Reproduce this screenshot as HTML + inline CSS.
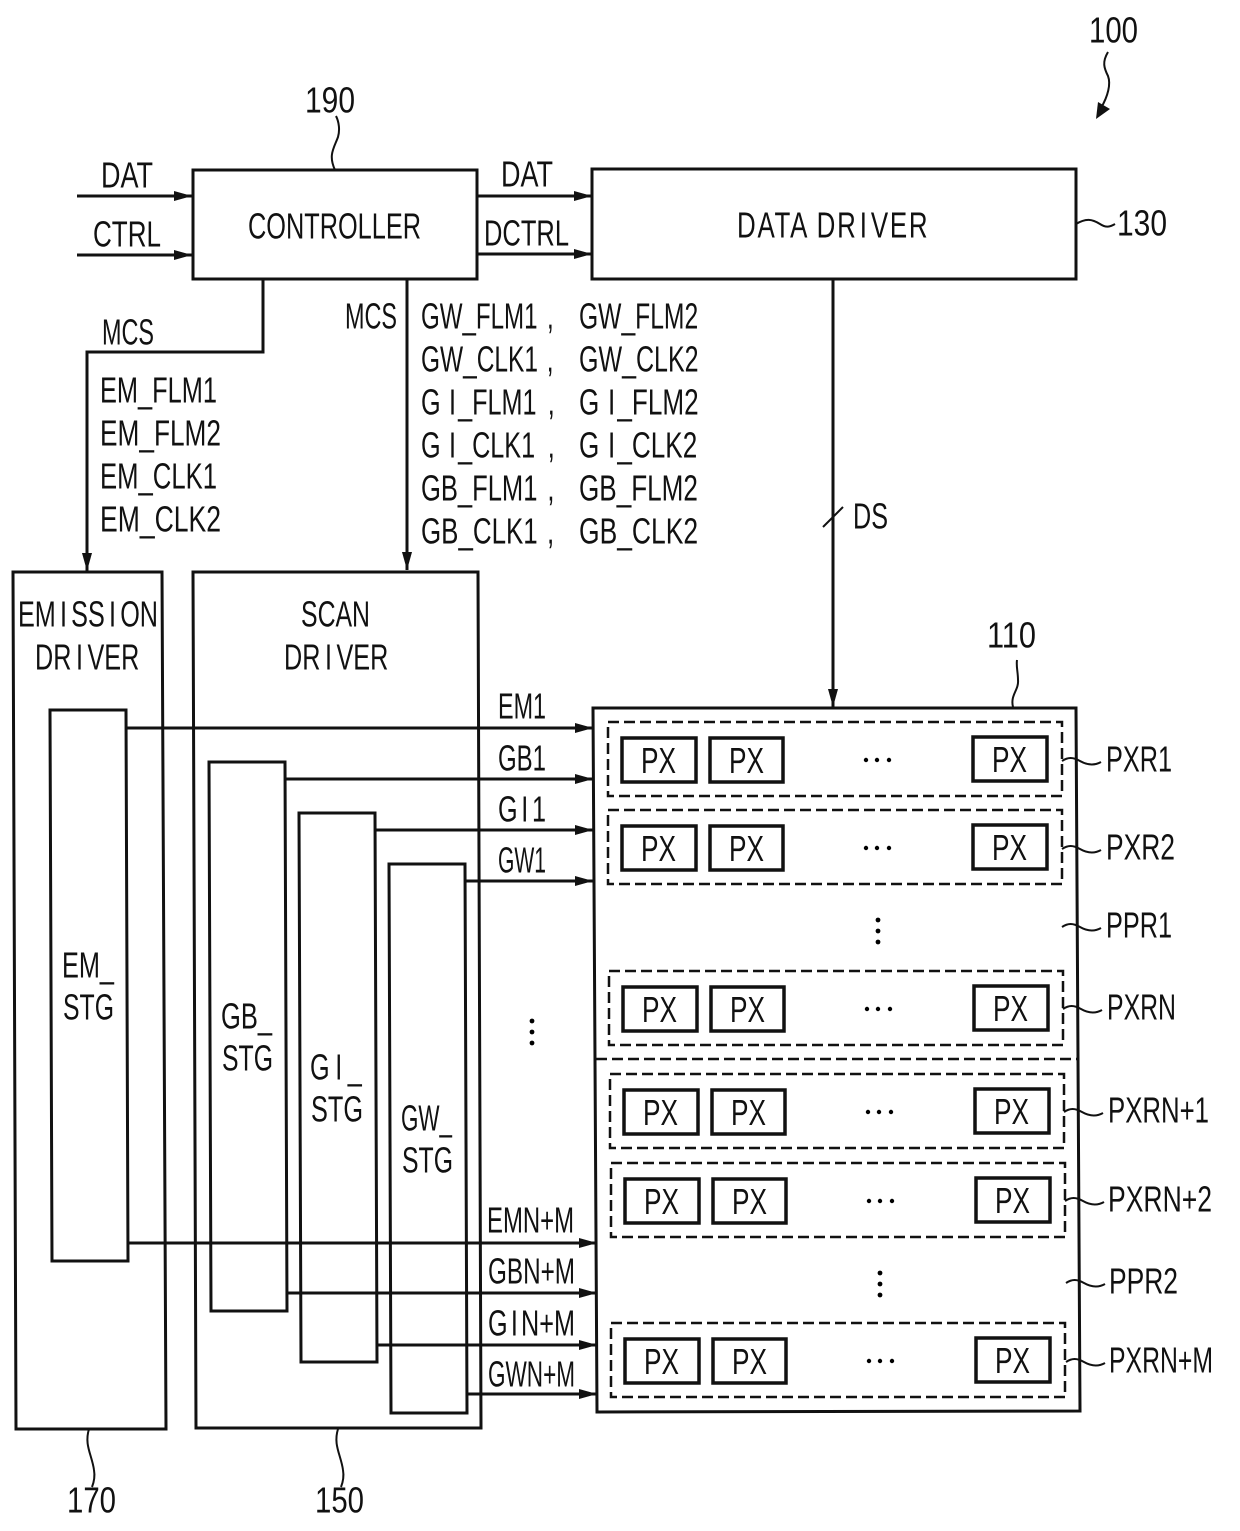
<!DOCTYPE html>
<html><head><meta charset="utf-8"><style>
html,body{margin:0;padding:0;background:#fff}
svg{display:block}
text{font-family:"Liberation Sans",sans-serif;font-size:36px;fill:#111}
.b{fill:none;stroke:#111;stroke-width:3}
.l{fill:none;stroke:#111;stroke-width:3}
.t{fill:none;stroke:#111;stroke-width:2}
.d{fill:none;stroke:#111;stroke-width:2.5;stroke-dasharray:11 5}
.p{fill:#fff;stroke:#111;stroke-width:3.5}
</style></head><body>
<svg xmlns="http://www.w3.org/2000/svg" width="1240" height="1531" viewBox="0 0 1240 1531">
<defs>
<marker id="a" markerUnits="userSpaceOnUse" markerWidth="20" markerHeight="10" refX="18" refY="5" orient="auto"><path d="M0 0L18 5L0 10Z" fill="#111"/></marker>
</defs>
<rect width="1240" height="1531" fill="#fff"/>

<!-- connectors -->
<path class="l" d="M77 196H192" marker-end="url(#a)"/>
<path class="l" d="M77 255H192" marker-end="url(#a)"/>
<path class="l" d="M477 196H592" marker-end="url(#a)"/>
<path class="l" d="M477 254H592" marker-end="url(#a)"/>
<path class="l" d="M263 280V352H87V571" marker-end="url(#a)"/>
<path class="l" d="M407 280V570" marker-end="url(#a)"/>
<path class="l" d="M833 280V707" marker-end="url(#a)"/>
<path class="t" d="M823 527L843 507"/>

<!-- main boxes -->
<path class="b" d="M193 170H477V279H193Z"/>
<path class="b" d="M592 169H1076V279H592Z"/>
<path class="b" d="M13 572H162L166 1429H16Z"/>
<path class="b" d="M193 572H478L481 1428H196Z"/>
<path class="b" d="M593 708H1076L1080 1411L597 1412Z"/>
<path class="b" d="M50 710H126L128 1261H52Z"/>
<path class="b" d="M209 762H285L287 1311H211Z"/>
<path class="b" d="M299 813H375L377 1362H301Z"/>
<path class="b" d="M389 864H465L467 1413H391Z"/>

<!-- scan lines -->
<path class="l" d="M126 728H593" marker-end="url(#a)"/>
<path class="l" d="M285 779H593" marker-end="url(#a)"/>
<path class="l" d="M375 830H593" marker-end="url(#a)"/>
<path class="l" d="M465 881H593" marker-end="url(#a)"/>
<path class="l" d="M128 1243H597" marker-end="url(#a)"/>
<path class="l" d="M287 1293H597" marker-end="url(#a)"/>
<path class="l" d="M377 1345H597" marker-end="url(#a)"/>
<path class="l" d="M467 1394H597" marker-end="url(#a)"/>

<path class="d" d="M596 1059H1077"/>

<!-- pixel rows -->
<g><path class="d" d="M608 722H1062V796H608Z"/><rect class="p" x="622" y="738" width="74" height="44"/><rect class="p" x="710" y="738" width="73" height="44"/><rect class="p" x="973" y="737" width="74" height="44"/>
<text x="641" y="773" textLength="35" lengthAdjust="spacingAndGlyphs">PX</text><text x="729" y="773" textLength="35" lengthAdjust="spacingAndGlyphs">PX</text><text x="992" y="772" textLength="35" lengthAdjust="spacingAndGlyphs">PX</text>
<circle cx="866" cy="760" r="2.2"/><circle cx="877" cy="760" r="2.2"/><circle cx="889" cy="760" r="2.2"/></g>
<g transform="translate(0,88)"><path class="d" d="M608 722H1062V796H608Z"/><rect class="p" x="622" y="738" width="74" height="44"/><rect class="p" x="710" y="738" width="73" height="44"/><rect class="p" x="973" y="737" width="74" height="44"/>
<text x="641" y="773" textLength="35" lengthAdjust="spacingAndGlyphs">PX</text><text x="729" y="773" textLength="35" lengthAdjust="spacingAndGlyphs">PX</text><text x="992" y="772" textLength="35" lengthAdjust="spacingAndGlyphs">PX</text>
<circle cx="866" cy="760" r="2.2"/><circle cx="877" cy="760" r="2.2"/><circle cx="889" cy="760" r="2.2"/></g>
<g transform="translate(1,249)"><path class="d" d="M608 722H1062V796H608Z"/><rect class="p" x="622" y="738" width="74" height="44"/><rect class="p" x="710" y="738" width="73" height="44"/><rect class="p" x="973" y="737" width="74" height="44"/>
<text x="641" y="773" textLength="35" lengthAdjust="spacingAndGlyphs">PX</text><text x="729" y="773" textLength="35" lengthAdjust="spacingAndGlyphs">PX</text><text x="992" y="772" textLength="35" lengthAdjust="spacingAndGlyphs">PX</text>
<circle cx="866" cy="760" r="2.2"/><circle cx="877" cy="760" r="2.2"/><circle cx="889" cy="760" r="2.2"/></g>
<g transform="translate(2,352)"><path class="d" d="M608 722H1062V796H608Z"/><rect class="p" x="622" y="738" width="74" height="44"/><rect class="p" x="710" y="738" width="73" height="44"/><rect class="p" x="973" y="737" width="74" height="44"/>
<text x="641" y="773" textLength="35" lengthAdjust="spacingAndGlyphs">PX</text><text x="729" y="773" textLength="35" lengthAdjust="spacingAndGlyphs">PX</text><text x="992" y="772" textLength="35" lengthAdjust="spacingAndGlyphs">PX</text>
<circle cx="866" cy="760" r="2.2"/><circle cx="877" cy="760" r="2.2"/><circle cx="889" cy="760" r="2.2"/></g>
<g transform="translate(3,441)"><path class="d" d="M608 722H1062V796H608Z"/><rect class="p" x="622" y="738" width="74" height="44"/><rect class="p" x="710" y="738" width="73" height="44"/><rect class="p" x="973" y="737" width="74" height="44"/>
<text x="641" y="773" textLength="35" lengthAdjust="spacingAndGlyphs">PX</text><text x="729" y="773" textLength="35" lengthAdjust="spacingAndGlyphs">PX</text><text x="992" y="772" textLength="35" lengthAdjust="spacingAndGlyphs">PX</text>
<circle cx="866" cy="760" r="2.2"/><circle cx="877" cy="760" r="2.2"/><circle cx="889" cy="760" r="2.2"/></g>
<g transform="translate(3,601)"><path class="d" d="M608 722H1062V796H608Z"/><rect class="p" x="622" y="738" width="74" height="44"/><rect class="p" x="710" y="738" width="73" height="44"/><rect class="p" x="973" y="737" width="74" height="44"/>
<text x="641" y="773" textLength="35" lengthAdjust="spacingAndGlyphs">PX</text><text x="729" y="773" textLength="35" lengthAdjust="spacingAndGlyphs">PX</text><text x="992" y="772" textLength="35" lengthAdjust="spacingAndGlyphs">PX</text>
<circle cx="866" cy="760" r="2.2"/><circle cx="877" cy="760" r="2.2"/><circle cx="889" cy="760" r="2.2"/></g>

<!-- vertical dots -->
<circle cx="878" cy="920" r="2.4"/><circle cx="878" cy="931" r="2.4"/><circle cx="878" cy="942" r="2.4"/>
<circle cx="880" cy="1273" r="2.4"/><circle cx="880" cy="1284" r="2.4"/><circle cx="880" cy="1295" r="2.4"/>
<circle cx="532" cy="1021" r="2.4"/><circle cx="532" cy="1032" r="2.4"/><circle cx="532" cy="1043" r="2.4"/>

<!-- leaders -->
<path class="t" d="M335 170C328 155 334 148 338 137C340 130 339 122 336 116"/>
<path class="t" d="M1076 224C1086 218 1092 219 1100 224C1106 228 1110 227 1115 224"/>
<path class="t" d="M1108 52C1102 62 1104 68 1108 76C1111 84 1108 96 1101 108"/>
<path d="M1096 119L1098 102L1110 109Z" fill="#111"/>
<path class="t" d="M1013 707C1010 695 1019 690 1018 680C1018 672 1016 666 1017 660"/>
<path class="t" d="M89 1429C84 1445 92 1455 94 1470C95 1476 94 1482 92 1487"/>
<path class="t" d="M338 1429C333 1445 341 1455 343 1470C344 1476 343 1482 341 1487"/>
<path class="t" d="M1062 761C1068 757 1073 757 1080 761C1087 765 1094 766 1101 762"/>
<path class="t" d="M1062 849C1068 845 1073 845 1080 849C1087 853 1094 854 1101 850"/>
<path class="t" d="M1062 927C1068 923 1073 923 1080 927C1087 931 1094 932 1101 928"/>
<path class="t" d="M1063 1009C1069 1005 1074 1005 1081 1009C1088 1013 1095 1014 1102 1010"/>
<path class="t" d="M1064 1112C1070 1108 1075 1108 1082 1112C1089 1116 1096 1117 1103 1113"/>
<path class="t" d="M1065 1201C1071 1197 1076 1197 1083 1201C1090 1205 1097 1206 1104 1202"/>
<path class="t" d="M1066 1283C1072 1279 1077 1279 1084 1283C1091 1287 1098 1288 1105 1284"/>
<path class="t" d="M1066 1362C1072 1358 1077 1358 1084 1362C1091 1366 1098 1367 1105 1363"/>

<!-- labels -->
<g transform="translate(0,-0.7)">
<text x="1089" y="43" textLength="49" lengthAdjust="spacingAndGlyphs">100</text>
<text x="305" y="113" textLength="50" lengthAdjust="spacingAndGlyphs">190</text>
<text x="101" y="188" textLength="52" lengthAdjust="spacingAndGlyphs">DAT</text>
<text x="93" y="247" textLength="68" lengthAdjust="spacingAndGlyphs">CTRL</text>
<text x="248" y="239" textLength="173" lengthAdjust="spacingAndGlyphs">CONTROLLER</text>
<text x="501" y="187" textLength="52" lengthAdjust="spacingAndGlyphs">DAT</text>
<text x="484" y="246" textLength="85" lengthAdjust="spacingAndGlyphs">DCTRL</text>
<text transform="translate(737 238) scale(.72 1)" letter-spacing="2.4">DATA DR<tspan dx="3">I</tspan><tspan dx="3">VER</tspan></text>
<text x="1117" y="236" textLength="50" lengthAdjust="spacingAndGlyphs">130</text>
<text x="102" y="345" textLength="52" lengthAdjust="spacingAndGlyphs">MCS</text>
<text x="345" y="329" textLength="52" lengthAdjust="spacingAndGlyphs">MCS</text>

<text transform="translate(421 329) scale(.67 1)">GW_FLM1<tspan x="188">,</tspan></text>
<text transform="translate(579 329) scale(.685 1)">GW_FLM2</text>
<text transform="translate(421 372) scale(.68 1)">GW_CLK1<tspan x="185">,</tspan></text>
<text transform="translate(579 372) scale(.695 1)">GW_CLK2</text>
<text transform="translate(421 415) scale(.7 1)">G<tspan x="40">I</tspan><tspan x="53">_FLM1</tspan><tspan x="181">,</tspan></text>
<text transform="translate(579 415) scale(.725 1)">G<tspan x="40">I</tspan><tspan x="53">_FLM2</tspan></text>
<text transform="translate(421 458) scale(.7 1)">G<tspan x="40">I</tspan><tspan x="53">_CLK1</tspan><tspan x="181">,</tspan></text>
<text transform="translate(579 458) scale(.725 1)">G<tspan x="40">I</tspan><tspan x="53">_CLK2</tspan></text>
<text transform="translate(421 501) scale(.71 1)">GB_FLM1<tspan x="178">,</tspan></text>
<text transform="translate(579 501) scale(.725 1)">GB_FLM2</text>
<text transform="translate(421 544) scale(.72 1)">GB_CLK1<tspan x="175">,</tspan></text>
<text transform="translate(579 544) scale(.735 1)">GB_CLK2</text>

<text x="100" y="403" textLength="117" lengthAdjust="spacingAndGlyphs">EM_FLM1</text>
<text x="100" y="446" textLength="121" lengthAdjust="spacingAndGlyphs">EM_FLM2</text>
<text x="100" y="489" textLength="117" lengthAdjust="spacingAndGlyphs">EM_CLK1</text>
<text x="100" y="532" textLength="121" lengthAdjust="spacingAndGlyphs">EM_CLK2</text>

<text x="853" y="529" textLength="35" lengthAdjust="spacingAndGlyphs">DS</text>
<text x="987" y="648" textLength="49" lengthAdjust="spacingAndGlyphs">110</text>
<text transform="translate(18 627) scale(.7 1)">EM<tspan dx="6">I</tspan><tspan dx="6">SS</tspan><tspan dx="6">I</tspan><tspan dx="6">ON</tspan></text>
<text transform="translate(35 670) scale(.7 1)">DR<tspan dx="6.5">I</tspan><tspan dx="6.5">VER</tspan></text>
<text x="301" y="627" textLength="69" lengthAdjust="spacingAndGlyphs">SCAN</text>
<text transform="translate(284 670) scale(.7 1)">DR<tspan dx="6.5">I</tspan><tspan dx="6.5">VER</tspan></text>
<text x="62" y="978" textLength="52" lengthAdjust="spacingAndGlyphs">EM_</text>
<text x="63" y="1020" textLength="51" lengthAdjust="spacingAndGlyphs">STG</text>
<text x="221" y="1029" textLength="51" lengthAdjust="spacingAndGlyphs">GB_</text>
<text x="222" y="1071" textLength="51" lengthAdjust="spacingAndGlyphs">STG</text>
<text transform="translate(310 1080) scale(.7 1)">G<tspan dx="8">I</tspan><tspan dx="8">_</tspan></text>
<text x="311" y="1122" textLength="52" lengthAdjust="spacingAndGlyphs">STG</text>
<text x="401" y="1131" textLength="51" lengthAdjust="spacingAndGlyphs">GW_</text>
<text x="402" y="1173" textLength="51" lengthAdjust="spacingAndGlyphs">STG</text>

<text x="498" y="719" textLength="48" lengthAdjust="spacingAndGlyphs">EM1</text>
<text x="498" y="771" textLength="48" lengthAdjust="spacingAndGlyphs">GB1</text>
<text transform="translate(498 822) scale(.7 1)">G<tspan dx="5.3">I</tspan><tspan dx="5.3">1</tspan></text>
<text x="498" y="873" textLength="48" lengthAdjust="spacingAndGlyphs">GW1</text>
<text x="487" y="1233" textLength="87" lengthAdjust="spacingAndGlyphs">EMN+M</text>
<text x="488" y="1284" textLength="87" lengthAdjust="spacingAndGlyphs">GBN+M</text>
<text transform="translate(488 1336) scale(.7 1)">G<tspan dx="4.6">I</tspan><tspan dx="4.6">N+M</tspan></text>
<text x="488" y="1387" textLength="87" lengthAdjust="spacingAndGlyphs">GWN+M</text>

<text x="1106" y="772" textLength="66" lengthAdjust="spacingAndGlyphs">PXR1</text>
<text x="1106" y="860" textLength="69" lengthAdjust="spacingAndGlyphs">PXR2</text>
<text x="1106" y="938" textLength="66" lengthAdjust="spacingAndGlyphs">PPR1</text>
<text x="1107" y="1020" textLength="69" lengthAdjust="spacingAndGlyphs">PXRN</text>
<text x="1108" y="1123" textLength="101" lengthAdjust="spacingAndGlyphs">PXRN+1</text>
<text x="1108" y="1212" textLength="104" lengthAdjust="spacingAndGlyphs">PXRN+2</text>
<text x="1109" y="1294" textLength="69" lengthAdjust="spacingAndGlyphs">PPR2</text>
<text x="1109" y="1373" textLength="104" lengthAdjust="spacingAndGlyphs">PXRN+M</text>
<text x="67" y="1513" textLength="49" lengthAdjust="spacingAndGlyphs">170</text>
<text x="315" y="1513" textLength="49" lengthAdjust="spacingAndGlyphs">150</text>
</g>
</svg>
</body></html>
